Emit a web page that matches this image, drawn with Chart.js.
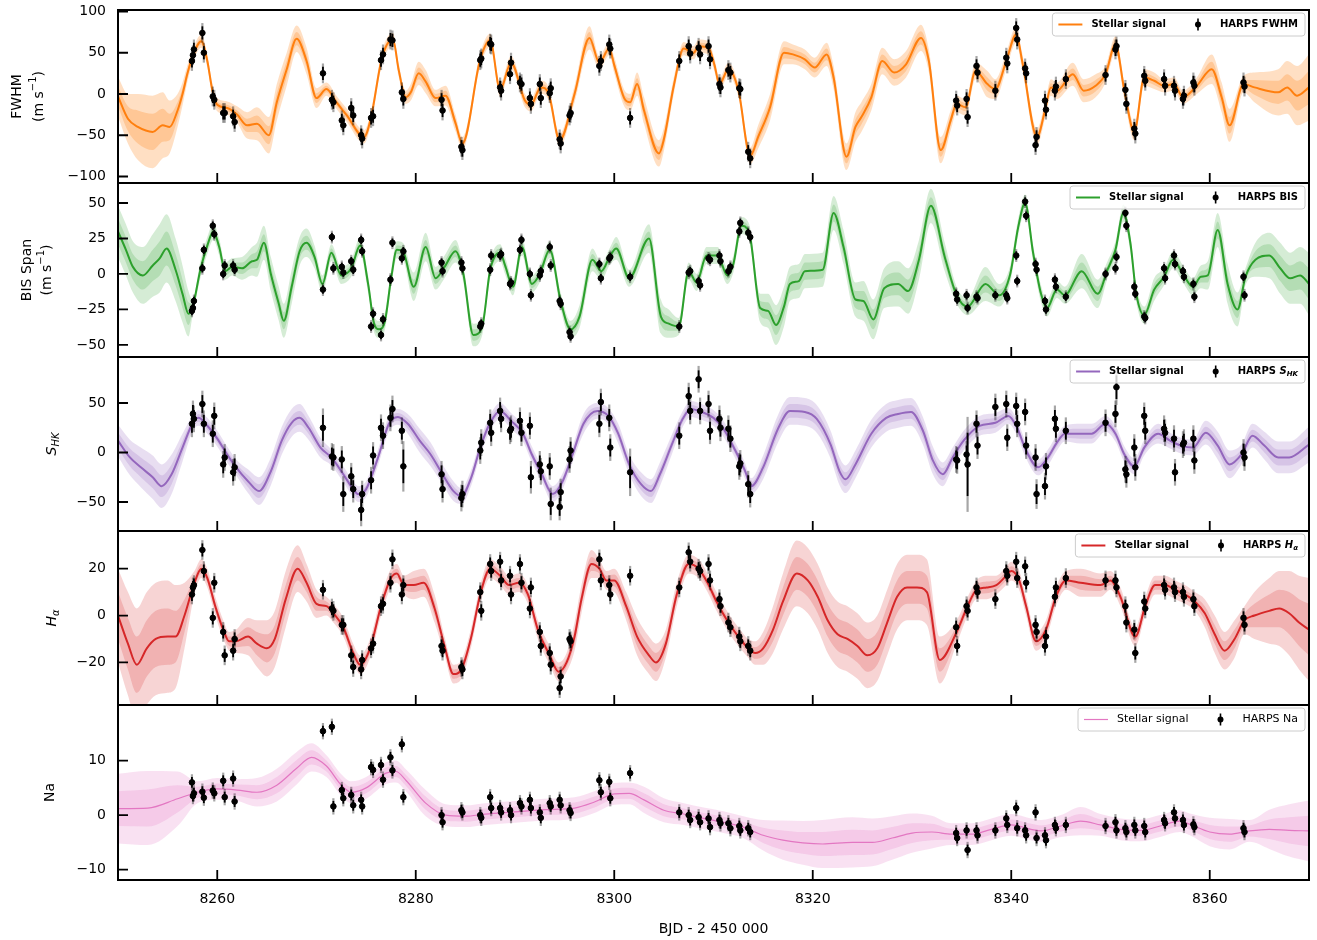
<!DOCTYPE html>
<html>
<head>
<meta charset="utf-8">
<title>HARPS activity indicators</title>
<script src="https://cdn.jsdelivr.net/npm/chart.js@4.4.1/dist/chart.umd.min.js"></script>
<style>
  html, body { margin: 0; padding: 0; background: #fff; }
  body { position: relative; width: 1317px; height: 940px; overflow: hidden; }
  canvas { position: absolute; left: 0; }
</style>
</head>
<body>
<script>
// ---- shared x axis ----
const xMin = 8250, xMax = 8370;
const xTicks = [8260, 8280, 8300, 8320, 8340, 8360];

// ---- HARPS epochs (BJD - 2450000) ----
const obsTime = [
  8257.45, 8257.55, 8257.65, 8258.5, 8258.65, 8259.55, 8259.7, 8260.6, 8260.75, 8261.6, 8261.75,
  8270.65,
  8271.55, 8271.7, 8272.55, 8272.7, 8273.5, 8273.7, 8274.5, 8274.6, 8275.5, 8275.7, 8276.5, 8276.7,
  8277.45, 8277.65, 8278.6, 8278.75,
  8282.6, 8282.7, 8284.6, 8284.7, 8286.5, 8286.6, 8287.5, 8287.6, 8288.5, 8288.6, 8289.5, 8289.6,
  8290.5, 8290.65, 8291.5, 8291.6, 8292.5, 8292.6, 8293.5, 8293.6, 8294.5, 8294.6, 8295.5, 8295.6,
  8298.5, 8298.65, 8299.5, 8299.6,
  8301.6, 8306.55,
  8307.5, 8307.65, 8308.5, 8308.65, 8309.5, 8309.65, 8310.6, 8310.7, 8311.5, 8311.7, 8312.6, 8312.7, 8313.5, 8313.7,
  8334.45, 8334.55, 8335.5, 8335.6, 8336.5, 8336.6,
  8338.4,
  8339.5, 8339.6, 8340.5, 8340.6, 8341.4, 8341.5, 8342.45, 8342.55, 8343.4, 8343.5, 8344.4, 8344.5,
  8345.5, 8349.5,
  8350.5, 8350.6, 8351.5, 8351.6, 8352.4, 8352.5, 8353.4, 8353.5,
  8355.4, 8355.5, 8356.4, 8356.5, 8357.3, 8357.4, 8358.35, 8358.45,
  8363.4, 8363.5
];

// ---- measured indicators ----
const fwhmObs = [
  40, 47, 54, 74, 50, -3, -7, -23, -23, -27, -34,
  25,
  -7, -10, -32, -38, -17, -26, -50, -54, -29, -27, 41, 48,
  66, 65, 2, -6,
  -7, -20, -64, -68, 41, 43, 61, 60, 8, 4, 24, 38,
  14, 12, -5, -12, 12, -5, 1, 7, -55, -60, -26, -23,
  34, 40, 60, 55,
  -29, 40,
  58, 49, 56, 48, 58, 42, 12, 8, 29, 26, 7, 6, -70, -78,
  -8, -14, -6, -28, 34, 26,
  4,
  44, 37, 80, 66, 31, 25, -62, -52, -8, -19, 4, 9,
  18, 23,
  54, 58, 5, -12, -42, -48, 22, 16,
  18, 10, 10, 4, -6, -2, 14, 10,
  14, 9
];
const bisObs = [
  -26, -24, -19, 4, 17, 34, 28, 0, 6, 6, 3,
  -11,
  26, 4, 5, 1, 9, 3, 24, 16, -37, -28, -43, -32,
  -4, 22, 11, 16,
  8, 2, 8, 4, -37, -35, 3, 13, 13, 14, -7, -6,
  17, 24, 0, -15, -1, 2, 19, 6, -19, -21, -41, -44,
  7, -3, 11, 12,
  -2, -37,
  1, 2, -5, -8, 11, 10, 13, 9, 2, 5, 30, 36, 29, 26,
  -14, -18, -15, -24, -16, -17,
  -15,
  -15, -17, 13, -5, 51, 41, 7, 3, -19, -25, -4, -9,
  -16, 0,
  4, 12, 43, 34, -9, -14, -30, -31,
  4, -3, 13, 7, 2, -2, -7, -16,
  -2, -15
];
const shkObs = [
  29, 39, 34, 49, 29, 19, 37, -12, -5, -20, -15,
  25,
  -4, -5, -7, -42, -24, -37, -58, -42, -28, -3, 25, 17,
  35, 44, 22, -14,
  -22, -37, -46, -42, 2, 10, 30, 20, 42, 34, 22, 24,
  32, 20, 27, -25, -12, -19, -14, -52, -55, -40, -7, 2,
  29, 51, 35, 5,
  -20, 17,
  57, 42, 74, 42, 49, 22, 34, 25, 24, 14, -14, -11, -32, -42,
  -7, -8, -2, -12, 29, 7,
  46,
  49, 15, 47, 29, 41, 7, -5, -42, -34, -14, 34, 24,
  22, 30,
  39, 66, -17, -22, 5, -15, 37, 22,
  24, 20, 14, -20, 8, 10, 14, -8,
  0, -5
];
const shkErr = [
  9, 9, 9, 9, 9, 9, 9, 9, 9, 9, 9,
  13,
  9, 9, 9, 12, 9, 9, 11, 9, 9, 9, 9, 9,
  9, 9, 9, 17,
  9, 9, 9, 9, 9, 9, 9, 9, 9, 9, 9, 9,
  9, 9, 9, 11, 9, 9, 9, 11, 9, 9, 9, 9,
  9, 9, 9, 9,
  16, 9,
  9, 9, 9, 9, 9, 9, 9, 9, 9, 9, 9, 9, 9, 9,
  9, 9, 9, 32, 9, 9,
  9,
  9, 9, 9, 9, 9, 9, 9, 10, 9, 9, 9, 9,
  9, 9,
  9, 12, 9, 9, 9, 9, 9, 9,
  9, 9, 9, 9, 9, 9, 9, 9,
  9, 9
];
const haObs = [
  9, 12, 13, 28, 19, -1, 14, -7, -17, -15, -10,
  11,
  3, 2, -4, -4, -17, -22, -23, -19, -14, -12, 4, 5,
  14, 24, 9, 13,
  -13, -15, -22, -23, 10, 2, 22, 19, 23, 15, 17, 9,
  22, 14, 3, 12, -7, -13, -16, -21, -31, -26, -10, -11,
  24, 15, 13, 9,
  17, 12,
  27, 23, 20, 19, 22, 15, 7, 4, -3, -5, -9, -11, -13, -15,
  -5, -13, 4, 2, 12, 10,
  7,
  19, 17, 23, 16, 21, 14, -4, -7, -13, -9, 8, 12,
  16, 15,
  15, 12, 4, -3, -6, -16, 6, 3,
  13, 11, 12, 10, 10, 8, 7, 4,
  -1, -4
];
const naObs = [
  6, 3.5, 4, 4.3, 3.2, 4.5, 4, 6.3, 3.3, 6.7, 2.5,
  15.4,
  16.2, 1.6, 4.6, 3.1, 3.7, 1.8, 2.8, 1.6, 8.8, 8.3, 9.2, 6.5,
  10.6, 8.2, 13, 3.3,
  0, -1.3, 0.9, 0.5, 0, -0.5, 3.3, 1.3, 1.3, 0.5, 0.9, 0,
  2.2, 1.6, 2.8, 1.3, 0.5, -0.5, 2.2, 1.6, 2.8, 1.8, 0.9, 0.4,
  6.4, 4.2, 6.1, 3.1,
  7.7, 0.5,
  0, -0.9, -0.4, -1.3, -0.6, -2.2, -0.9, -1.5, -1.5, -2.4, -2, -2.8, -2.4, -3.1,
  -3.3, -4.2, -2.8, -6.4, -2.8, -3.7,
  -2.8,
  -0.6, -1.8, 1.3, -2.4, -2.8, -3.7, 0.5, -4.2, -3.7, -4.6, -1.8, -2.4,
  -1.8, -2,
  -1.3, -2.8, -2.4, -3.1, -1.8, -2.8, -2, -3.1,
  -0.9, -1.5, 0.5, -0.6, -0.9, -1.8, -1.7, -2.2,
  -2.4, -3.1
];
const fwhmErr = 8, bisErr = 3, haErr = 2.8, naErr = 1.0;

// ---- GP prediction: mean and 1-sigma at knots ----
const fwhmGpT = [8250, 8251, 8252, 8253.5, 8254.5, 8255.2, 8256, 8256.5, 8257, 8257.5, 8258.4, 8259, 8259.5, 8260, 8261, 8262, 8263, 8264, 8265.2, 8266, 8267, 8268, 8269, 8270, 8271, 8272, 8273, 8274.8, 8275.5, 8276.6, 8277.7, 8278.3, 8279, 8279.5, 8280.3, 8281, 8282, 8283, 8284, 8284.7, 8286.5, 8287.5, 8288.5, 8289.6, 8291, 8291.6, 8292.6, 8293.4, 8294.5, 8296, 8297.5, 8298.5, 8299.5, 8300, 8301, 8301.6, 8302.3, 8303, 8304.5, 8305, 8306, 8307, 8308, 8308.5, 8309.5, 8310.1, 8310.6, 8311.5, 8312.5, 8313.7, 8314.5, 8315.7, 8317.1, 8318, 8319.2, 8320.2, 8321.4, 8322.1, 8323.4, 8324.3, 8324.9, 8325.9, 8327, 8328.2, 8329.4, 8330.9, 8331.7, 8332.9, 8333.9, 8334.5, 8335.4, 8336.4, 8337.6, 8338.4, 8339.5, 8340.5, 8341.1, 8342.6, 8343.4, 8344, 8344.6, 8346.2, 8347.3, 8348.5, 8349.5, 8350.5, 8351.4, 8352.4, 8353.4, 8354.4, 8355.4, 8356.4, 8357.3, 8358.7, 8360.2, 8361.2, 8362, 8363.4, 8364.5, 8366.9, 8367.8, 8368.8, 8370];
const fwhmGpV = [-3, -30, -40, -46, -38, -40, -20, 0, 25, 45, 64, 40, 5, -13, -17, -25, -38, -36, -50, -10, 30, 67, 40, -5, 6, -10, -25, -52, -28, 44, 66, 28, -4, 2, 25, 15, -5, -2, -35, -60, 42, 65, 5, 38, -8, -13, 8, 0, -56, 0, 68, 38, 55, 35, -5, -10, 12, -20, -72, -55, 10, 55, 50, 58, 56, 35, 12, 30, 5, -75, -52, -16, 50, 48, 42, 32, 48, 20, -76, -40, -28, -4, 40, 26, 36, 68, 40, -68, -32, -12, -16, 28, 12, 6, 40, 72, 40, -52, -20, 8, 4, 24, 4, 10, 24, 60, 4, -46, 20, 16, 10, 12, -4, 10, 30, -4, -38, 12, 8, 2, 8, -2, 8];
const fwhmGpS = [12, 15, 20, 22, 20, 16, 10, 7, 5, 4, 4, 4, 4, 4, 4, 5, 8, 10, 11, 11, 10, 8, 8, 6, 4, 4, 4, 4, 4, 4, 4, 4, 4, 5, 7, 7, 5, 6, 5, 4, 4, 4, 4, 4, 4, 4, 4, 4, 4, 5, 7, 4, 4, 5, 5, 5, 7, 8, 8, 7, 5, 4, 4, 4, 4, 4, 4, 4, 4, 5, 7, 8, 7, 6, 6, 6, 7, 7, 8, 9, 9, 8, 8, 8, 8, 8, 7, 8, 6, 5, 5, 5, 8, 6, 5, 5, 5, 5, 5, 5, 5, 7, 7, 7, 5, 5, 5, 5, 5, 5, 4, 4, 4, 5, 9, 9, 10, 5, 9, 14, 16, 18, 20];

const bisGpT = [8250, 8250.8, 8251.5, 8252.5, 8253.5, 8254.2, 8254.9, 8255.8, 8256.5, 8257.1, 8257.5, 8258.3, 8259, 8259.6, 8260.2, 8260.8, 8261.5, 8262.5, 8263.5, 8264, 8264.7, 8265.4, 8266.2, 8266.7, 8267.5, 8268.3, 8269, 8269.8, 8270.6, 8271.5, 8272.5, 8273.5, 8274.4, 8275.2, 8275.8, 8276.3, 8276.9, 8277.5, 8278.1, 8278.7, 8279.8, 8281, 8282, 8282.9, 8284, 8284.8, 8285.8, 8286.7, 8287.5, 8288.5, 8289, 8289.8, 8290.7, 8291.7, 8292.5, 8293.5, 8294.6, 8295.6, 8296.5, 8297.8, 8298.7, 8299.6, 8300.2, 8301.5, 8303.5, 8304.7, 8305.5, 8306.5, 8307.5, 8308.3, 8309.3, 8310.4, 8311.4, 8312, 8312.8, 8313.6, 8314.7, 8315.5, 8316.3, 8317.1, 8317.7, 8318.6, 8319.2, 8321, 8322.1, 8323.1, 8324.3, 8325.1, 8326.1, 8327.2, 8328.6, 8329.6, 8330.7, 8331.9, 8333.3, 8334.5, 8335.6, 8337.4, 8338.8, 8339.9, 8340.7, 8341.4, 8342.2, 8343, 8343.6, 8344.6, 8345.4, 8347.1, 8348.7, 8349.7, 8350.5, 8351.3, 8352, 8352.6, 8353.4, 8354.4, 8355.4, 8356.3, 8357.3, 8358.3, 8359.1, 8359.8, 8360.8, 8361.8, 8362.8, 8363.6, 8364.6, 8366, 8367.1, 8368.1, 8369.1, 8370];
const bisGpV = [30, 17, 5, -1, 6, 11, 18, 3, -14, -28, -24, 3, 20, 30, 19, 2, 5, 4, 9, 10, 22, 0, -21, -33, -9, 16, 22, 12, -7, 15, -1, 4, 20, -7, -35, -39, -33, -4, 17, 16, -9, 19, -3, 5, 16, 0, -43, -37, 3, 15, 6, -9, 19, -7, 0, 17, -19, -39, -30, 10, 2, 13, 18, -3, 25, -30, -35, -37, 2, -6, 13, 13, -1, 7, 34, 29, -24, -26, -36, -23, -7, -5, 2, 3, 43, 19, -18, -19, -32, -10, -7, -12, 10, 48, 12, -15, -23, -7, -15, 0, 33, 50, 15, -14, -24, -11, -15, 2, -14, 3, 17, 43, 22, -14, -29, -11, -2, 10, 0, -9, -2, -1, 31, -7, -25, -2, 10, 13, 4, -3, -1, -7];
const bisGpS = [9, 9, 9, 10, 11, 12, 12, 11, 10, 8, 3, 3, 3, 3, 3, 3, 3, 4, 5, 6, 6, 6, 6, 6, 6, 5, 5, 4, 3, 3, 3, 3, 3, 3, 3, 3, 3, 3, 3, 3, 5, 5, 4, 4, 4, 3, 4, 3, 3, 3, 3, 3, 3, 3, 3, 3, 3, 3, 4, 4, 3, 3, 4, 3, 5, 6, 5, 3, 3, 3, 3, 3, 3, 3, 3, 3, 5, 6, 7, 7, 6, 6, 6, 6, 6, 6, 6, 7, 7, 7, 8, 8, 7, 6, 5, 3, 3, 6, 4, 3, 3, 3, 3, 3, 3, 3, 3, 6, 5, 3, 3, 3, 3, 3, 3, 4, 3, 3, 3, 3, 4, 5, 6, 7, 6, 3, 6, 8, 9, 9, 10, 11];

const shkGpT = [8250, 8251.2, 8252.3, 8253.5, 8254.4, 8255.4, 8256.5, 8257.5, 8258.1, 8259, 8260, 8261, 8261.9, 8263.1, 8264.2, 8265.4, 8266.5, 8267.5, 8268.3, 8269.2, 8270.4, 8271.5, 8272.7, 8273.7, 8274.2, 8275, 8276.2, 8277.3, 8278.2, 8279.2, 8280.4, 8281.5, 8282.7, 8283.8, 8284.6, 8285.6, 8286.5, 8287.5, 8288.5, 8289.6, 8290.8, 8291.7, 8292.7, 8293.8, 8294.8, 8295.8, 8296.9, 8298.3, 8299.4, 8300.4, 8301.5, 8302.7, 8303.7, 8304.6, 8305.8, 8306.9, 8307.7, 8308.8, 8310, 8311, 8312.2, 8313.2, 8313.8, 8315, 8316.5, 8317.7, 8319.2, 8320.4, 8321.8, 8322.7, 8323.3, 8324.3, 8325.9, 8327.4, 8328.6, 8329.9, 8331.1, 8332.1, 8333.1, 8334.1, 8335.2, 8336.8, 8338.4, 8339.7, 8340.5, 8341.5, 8342.7, 8343.7, 8344.6, 8345.4, 8347, 8348.1, 8349.5, 8350.5, 8351.4, 8352.4, 8353.4, 8354.8, 8356, 8357.1, 8358.3, 8359.6, 8360.8, 8362, 8363.2, 8364.3, 8365.5, 8366.9, 8368, 8370];
const shkGpV = [12, -5, -15, -25, -34, -22, 5, 29, 35, 27, 14, -2, -15, -29, -39, -19, 12, 30, 35, 25, 5, -5, -22, -37, -42, -37, -5, 29, 36, 29, 12, -2, -22, -39, -44, -25, 5, 30, 42, 32, 19, -2, -22, -42, -29, -2, 29, 42, 37, 19, -12, -32, -39, -22, 8, 34, 44, 41, 35, 24, 2, -19, -34, -15, 24, 42, 41, 34, 8, -19, -27, -12, 19, 35, 39, 41, 22, -8, -22, -5, 12, 27, 30, 37, 27, 2, -15, -5, 10, 19, 19, 19, 29, 19, -2, -14, 5, 19, 12, 7, 5, 20, 7, -12, -2, 17, 7, -5, -5, 8];
const shkGpS = [8, 9, 10, 11, 11, 10, 7, 4, 4, 4, 4, 4, 4, 6, 7, 7, 7, 7, 7, 6, 5, 4, 4, 4, 4, 4, 4, 4, 4, 5, 6, 6, 5, 5, 4, 4, 4, 4, 4, 4, 4, 4, 4, 4, 4, 4, 5, 4, 4, 5, 5, 6, 6, 6, 5, 4, 4, 4, 4, 4, 4, 4, 4, 6, 7, 7, 7, 7, 7, 7, 7, 7, 7, 7, 7, 7, 7, 7, 6, 5, 5, 5, 5, 4, 4, 4, 4, 4, 4, 4, 5, 5, 4, 4, 4, 4, 4, 5, 4, 4, 4, 6, 7, 7, 5, 6, 7, 8, 8, 9];

const haGpT = [8250, 8251, 8251.9, 8252.9, 8253.8, 8255, 8255.8, 8256.7, 8257.7, 8258.4, 8259, 8259.8, 8260.6, 8261.2, 8261.9, 8263.1, 8264, 8265, 8265.8, 8266.9, 8268.1, 8269, 8270, 8271, 8271.7, 8272.7, 8273.7, 8274.4, 8275.4, 8276.5, 8277.5, 8278.1, 8278.8, 8279.8, 8280.8, 8281.9, 8282.9, 8283.8, 8284.6, 8285.6, 8286.5, 8287.5, 8288.5, 8289.4, 8290.4, 8291.3, 8292.3, 8293.5, 8294.4, 8295.2, 8296, 8296.7, 8297.7, 8298.5, 8299.2, 8300, 8301.2, 8302.3, 8303.5, 8304.2, 8305.2, 8306.3, 8307.5, 8308.5, 8309.4, 8310.3, 8311.5, 8312.5, 8313.5, 8314.2, 8315, 8316, 8317, 8318.4, 8319.5, 8320.5, 8321.5, 8322.5, 8323.5, 8324.5, 8325.5, 8326.5, 8327.5, 8328.5, 8329.5, 8330.5, 8331.5, 8332.8, 8334.5, 8335.5, 8336.5, 8337.5, 8338.5, 8339.5, 8340, 8340.8, 8341.5, 8342.5, 8343.5, 8344.5, 8345.5, 8347, 8349, 8350, 8351, 8352.5, 8353.5, 8354.5, 8355.5, 8356.5, 8357.5, 8358.5, 8359.5, 8360.5, 8361.5, 8362.5, 8363.5, 8364.5, 8366, 8367, 8368, 8369, 8370];
const haGpV = [0, -12, -21, -14, -10, -9, -9, 0, 14, 20, 16, 4, -6, -11, -11, -9, -12, -14, -10, 7, 20, 14, 5, 4, 1, -5, -16, -21, -14, 4, 16, 18, 13, 13, 14, 3, -13, -25, -23, -9, 9, 20, 17, 13, 14, 9, -6, -17, -24, -20, -9, 7, 22, 20, 15, 15, 4, -9, -17, -20, -12, 9, 22, 20, 14, 6, -3, -9, -14, -16, -14, -6, 6, 18, 15, 8, -2, -8, -10, -13, -17, -14, -3, 8, 12, 12, 10, -19, -7, 3, 11, 12, 13, 17, 19, 15, 4, -11, -6, 8, 15, 14, 13, 15, 8, -9, 4, 13, 13, 11, 9, 6, 1, -8, -15, -10, -2, 0, 2, 3, 1, -3, -6];
const haGpS = [10, 11, 12, 12, 12, 12, 11, 7, 2.5, 2, 2, 2, 2, 2, 2.5, 4, 5, 6, 6, 6, 5, 4, 3, 2, 2, 2, 2, 2, 2, 2, 2, 2, 2, 3, 3, 3, 2, 2, 2, 2, 2, 2, 2, 2, 2, 2, 2, 2, 2, 2, 3, 3, 3, 2, 2, 2.5, 3, 4, 4, 4, 3, 2.5, 2, 2, 2, 2, 2, 2, 2, 2.5, 3.5, 5, 6, 7, 7, 7, 7, 7, 7, 7, 7, 7, 7, 7, 7, 7, 7, 5, 2.5, 2, 2, 2.5, 2, 2, 2, 2, 2, 2, 2, 2, 2, 3, 2.5, 2, 2, 2, 2, 2, 2, 2, 2, 2, 3, 4, 4, 4, 3, 5, 7, 8, 9, 10, 11];

const naGpT = [8250, 8253, 8256, 8258, 8260, 8262, 8264, 8266, 8268, 8269.5, 8271, 8272.5, 8273.5, 8275, 8277, 8278, 8279, 8281, 8283, 8285, 8287, 8290, 8293, 8296, 8298, 8300, 8301.5, 8303, 8305, 8307, 8309, 8311, 8313, 8315, 8317, 8319, 8321, 8324, 8326, 8328, 8330, 8332, 8334, 8336, 8338, 8340, 8342, 8343, 8345, 8347, 8349, 8351, 8353, 8355, 8357, 8358, 8360, 8362, 8364, 8366, 8368, 8370];
const naGpV = [1.2, 1.3, 3, 4.2, 4.8, 4.6, 4.2, 5.5, 8.6, 10.6, 9, 5.5, 4.2, 5, 7.7, 8, 6.4, 2.2, 0, -0.2, 0.2, 0.6, 1, 1.3, 2.4, 3.9, 4, 2.8, 0.9, 0.2, -0.6, -1.3, -2.2, -3.7, -4.6, -5.1, -5.3, -5, -5, -4.2, -3.3, -3.1, -3.5, -3.5, -2.6, -1.8, -2.6, -2.9, -2, -1.1, -1.8, -2.6, -2.8, -2, -1.1, -1.7, -3.1, -3.5, -2.9, -2.6, -2.8, -2.9];
const naGpS = [3.2, 3.4, 2.5, 1, 1, 1, 1.3, 1.5, 1.5, 1.3, 1, 1, 1, 1, 1, 1, 1, 1.2, 1, 1, 1, 1, 1, 1, 1, 1, 1, 1.2, 1.1, 1, 1, 1, 1, 1.4, 1.8, 2, 2.2, 2.3, 2.2, 2, 1.8, 1.5, 1, 1, 1, 1, 1, 1, 1, 1.3, 1, 1, 1, 1, 1, 1, 1.3, 1.4, 1, 1.8, 2.4, 2.8];

// ---- panel table built from the arrays above ----
const sup = [{ t: '(m s' }, { t: '\u22121', sup: true }, { t: ')' }];
const panels = [
  { top: 10, bottom: 183, yMin: -107.9, yMax: 101.8, yTicks: [-100, -50, 0, 50, 100], color: '#ff7f0e', alpha: 0.25, lw: 2,
    gpT: fwhmGpT, gpV: fwhmGpV, gpS: fwhmGpS, obs: fwhmObs, err: obsTime.map(() => fwhmErr),
    ylab: [[{ t: 'FWHM' }], sup], ylabX: [17, 39], legName: [{ t: 'HARPS FWHM' }], legBold: true },
  { top: 183, bottom: 357, yMin: -58.5, yMax: 64.1, yTicks: [-50, -25, 0, 25, 50], color: '#2ca02c', alpha: 0.2, lw: 2,
    gpT: bisGpT, gpV: bisGpV, gpS: bisGpS, obs: bisObs, err: obsTime.map(() => bisErr),
    ylab: [[{ t: 'BIS Span' }], sup], ylabX: [27, 47], legName: [{ t: 'HARPS BIS' }], legBold: true },
  { top: 357, bottom: 531, yMin: -79.3, yMax: 96.5, yTicks: [-50, 0, 50], color: '#9467bd', alpha: 0.22, lw: 2,
    gpT: shkGpT, gpV: shkGpV, gpS: shkGpS, obs: shkObs, err: shkErr,
    ylab: [[{ t: 'S', it: true }, { t: 'HK', it: true, sub: true }]], ylabX: [52],
    legName: [{ t: 'HARPS ' }, { t: 'S', it: true }, { t: 'HK', it: true, sub: true }], legBold: true },
  { top: 531, bottom: 705, yMin: -38.2, yMax: 36.1, yTicks: [-20, 0, 20], color: '#d62728', alpha: 0.2, lw: 2,
    gpT: haGpT, gpV: haGpV, gpS: haGpS, obs: haObs, err: obsTime.map(() => haErr),
    ylab: [[{ t: 'H', it: true }, { t: '\u03b1', it: true, sub: true }]], ylabX: [52],
    legName: [{ t: 'HARPS ' }, { t: 'H', it: true }, { t: '\u03b1', it: true, sub: true }], legBold: true },
  { top: 705, bottom: 880, yMin: -11.9, yMax: 20.2, yTicks: [-10, 0, 10], color: '#e377c2', alpha: 0.22, lw: 1.2,
    gpT: naGpT, gpV: naGpV, gpS: naGpS, obs: naObs, err: obsTime.map(() => naErr),
    ylab: [[{ t: 'Na' }]], ylabX: [50], legName: [{ t: 'HARPS Na' }], legBold: false }
];

const FONT = '"DejaVu Sans", sans-serif';
const PAD = 25;

function tint(hex, a) {
  const n = parseInt(hex.slice(1), 16);
  return `rgba(${n >> 16},${(n >> 8) & 255},${n & 255},${a})`;
}

// draws a run of text pieces (italic / sub / superscript), returns width
function drawRich(ctx, parts, x, y, size, align, weight, measureOnly) {
  const fonts = parts.map(q => [q.it ? 'italic' : '', weight || '',
    ((q.sub || q.sup) ? Math.round(size * 0.7) : size) + 'px', FONT].filter(Boolean).join(' '));
  const widths = parts.map((q, i) => { ctx.font = fonts[i]; return ctx.measureText(q.t).width; });
  const total = widths.reduce((s, w) => s + w, 0);
  if (measureOnly) return total;
  let cx = align === 'center' ? x - total / 2 : x;
  ctx.textAlign = 'left';
  parts.forEach((q, i) => {
    ctx.font = fonts[i];
    const dy = q.sub ? size * 0.3 : q.sup ? -size * 0.4 : 0;
    ctx.fillText(q.t, cx, y + dy);
    cx += widths[i];
  });
  return total;
}

function makePanel(p, last) {
  const top = p.top - PAD;
  const h = last ? 940 - top : (p.bottom - p.top) + 2 * PAD;
  const cv = document.createElement('canvas');
  cv.width = 1317; cv.height = h;
  cv.style.top = top + 'px';
  cv.style.width = '1317px'; cv.style.height = h + 'px';
  document.body.appendChild(cv);

  const shade = tint(p.color, p.alpha);
  const band = k => p.gpT.map((t, i) => ({ x: t, y: p.gpV[i] + k * p.gpS[i] }));
  const bandSet = (k, fill) => ({
    data: band(k), fill, backgroundColor: shade, borderColor: 'rgba(0,0,0,0)', borderWidth: 0,
    pointRadius: 0, cubicInterpolationMode: 'monotone'
  });

  const deco = {
    id: 'deco',
    beforeDatasetDraw(chart, args) {
      if (args.index !== 0) return;
      const { ctx, chartArea: a, scales: { x, y } } = chart;
      ctx.save();
      ctx.beginPath(); ctx.rect(a.left, a.top, a.width, a.height); ctx.clip();
      ctx.lineCap = 'butt';
      obsTime.forEach((t, i) => {
        const px = x.getPixelForValue(t), v = p.obs[i], e = p.err[i];
        ctx.strokeStyle = 'rgba(0,0,0,0.35)'; ctx.lineWidth = 2.2;
        ctx.beginPath();
        ctx.moveTo(px, y.getPixelForValue(v - 1.5 * e)); ctx.lineTo(px, y.getPixelForValue(v + 1.5 * e));
        ctx.stroke();
        ctx.strokeStyle = '#000'; ctx.lineWidth = 1.8;
        ctx.beginPath();
        ctx.moveTo(px, y.getPixelForValue(v - e)); ctx.lineTo(px, y.getPixelForValue(v + e));
        ctx.stroke();
      });
      ctx.restore();
    },
    afterDraw(chart) {
      const { ctx, chartArea: a, scales: { x, y } } = chart;
      ctx.save();
      // inward ticks and frame
      ctx.strokeStyle = '#000';
      ctx.lineWidth = 1.8;
      ctx.beginPath();
      p.yTicks.forEach(v => { const py = y.getPixelForValue(v); ctx.moveTo(a.left, py); ctx.lineTo(a.left + 10, py); });
      xTicks.forEach(v => { const px = x.getPixelForValue(v); ctx.moveTo(px, a.bottom); ctx.lineTo(px, a.bottom - 10); });
      ctx.stroke();
      ctx.lineWidth = 2;
      ctx.strokeRect(a.left, a.top, a.width, a.height);

      // y label
      ctx.fillStyle = '#000';
      ctx.textBaseline = 'middle';
      const cy = (a.top + a.bottom) / 2;
      p.ylab.forEach((parts, k) => {
        ctx.save();
        ctx.translate(p.ylabX[k], cy);
        ctx.rotate(-Math.PI / 2);
        drawRich(ctx, parts, 0, 0, 14, 'center', '');
        ctx.restore();
      });

      // legend
      const wt = p.legBold ? 'bold' : '';
      const fs = p.legBold ? 10 : 11;
      const w1 = drawRich(ctx, [{ t: 'Stellar signal' }], 0, 0, fs, 'left', wt, true);
      const w2 = drawRich(ctx, p.legName, 0, 0, fs, 'left', wt, true);
      const W = 6 + 24 + 9 + w1 + 32 + 22 + w2 + 7;
      const bx = a.right - 4 - W, by = a.top + 3, bh = 23, ly = by + bh / 2;
      ctx.beginPath();
      ctx.roundRect(bx, by, W, bh, 3);
      ctx.fillStyle = 'rgba(255,255,255,0.8)';
      ctx.fill();
      ctx.strokeStyle = '#cccccc'; ctx.lineWidth = 1;
      ctx.stroke();
      ctx.strokeStyle = p.color; ctx.lineWidth = p.lw;
      ctx.beginPath(); ctx.moveTo(bx + 6, ly); ctx.lineTo(bx + 30, ly); ctx.stroke();
      ctx.fillStyle = '#000';
      drawRich(ctx, [{ t: 'Stellar signal' }], bx + 39, ly, fs, 'left', wt);
      const mx = bx + 39 + w1 + 32;
      ctx.strokeStyle = '#000'; ctx.lineWidth = 1.6;
      ctx.beginPath(); ctx.moveTo(mx, ly - 6); ctx.lineTo(mx, ly + 6); ctx.stroke();
      ctx.beginPath(); ctx.arc(mx, ly, 3, 0, Math.PI * 2); ctx.fill();
      drawRich(ctx, p.legName, mx + 22, ly, fs, 'left', wt);

      // x title on the bottom panel
      if (last) {
        ctx.font = '14px ' + FONT;
        ctx.textAlign = 'center';
        ctx.fillText('BJD - 2 450 000', (a.left + a.right) / 2, 929 - top);
      }
      ctx.restore();
    }
  };

  return new Chart(cv, {
    type: 'line',
    data: {
      datasets: [
        { data: obsTime.map((t, i) => ({ x: t, y: p.obs[i] })), showLine: false, pointRadius: 2.8,
          pointBackgroundColor: '#000', pointBorderColor: '#000', pointBorderWidth: 1 },
        { data: p.gpT.map((t, i) => ({ x: t, y: p.gpV[i] })), borderColor: p.color, borderWidth: p.lw,
          pointRadius: 0, fill: false, cubicInterpolationMode: 'monotone' },
        bandSet(1, '+1'), bandSet(-1, false),
        bandSet(2, '+1'), bandSet(-2, false)
      ]
    },
    options: {
      responsive: false,
      devicePixelRatio: 1,
      animation: false,
      events: [],
      layout: { padding: { top: PAD, bottom: last ? 0 : PAD, left: 0, right: 8 } },
      plugins: { legend: { display: false }, tooltip: { enabled: false } },
      scales: {
        x: {
          type: 'linear', min: xMin, max: xMax, display: !!last,
          afterBuildTicks: s => { s.ticks = xTicks.map(v => ({ value: v })); },
          afterFit: last ? s => { s.height = 60; } : undefined,
          grid: { display: false, drawTicks: false },
          border: { display: false },
          ticks: { padding: 11, autoSkip: false, maxRotation: 0, color: '#000',
            font: { size: 14, family: FONT }, callback: v => String(v) }
        },
        y: {
          type: 'linear', min: p.yMin, max: p.yMax,
          afterBuildTicks: s => { s.ticks = p.yTicks.map(v => ({ value: v })); },
          afterFit: s => { s.width = 118; },
          grid: { display: false, drawTicks: false },
          border: { display: false },
          ticks: { padding: 12, autoSkip: false, color: '#000', font: { size: 14, family: FONT },
            callback: v => v < 0 ? '\u2212' + (-v) : String(v) }
        }
      }
    },
    plugins: [deco]
  });
}

panels.forEach((p, i) => makePanel(p, i === panels.length - 1));
</script>
</body>
</html>
